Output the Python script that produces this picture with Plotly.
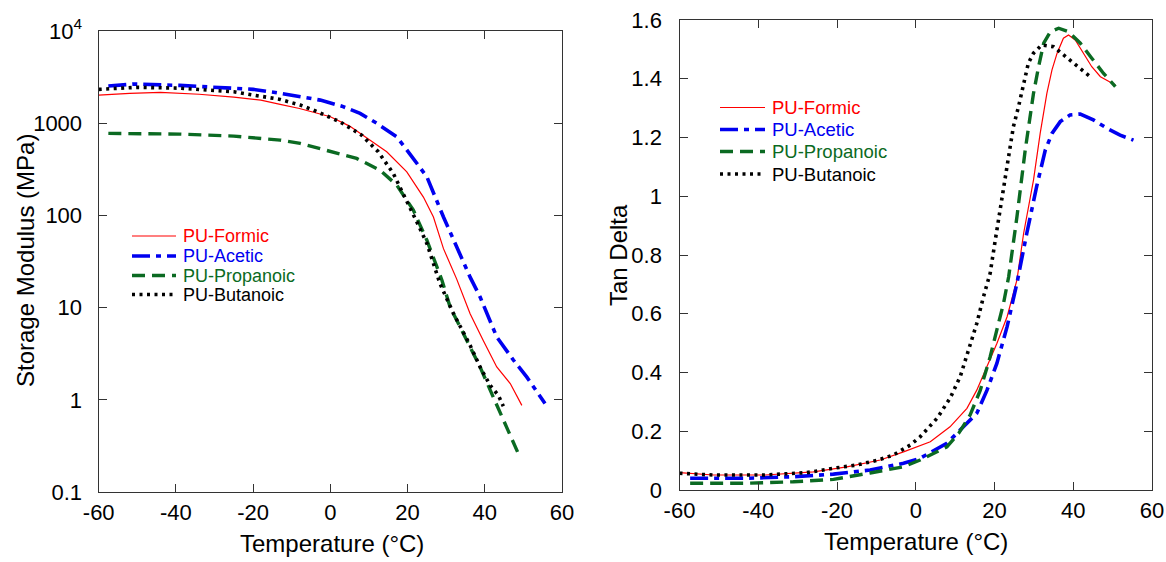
import plotly.graph_objects as go

# ---------------- data: storage modulus (left) ----------------
formic_T = [-60, -52, -44, -34, -25, -18, -13, -8, 0, 5, 9, 14.6, 19.8, 24.1, 26.7, 29.3, 32.7, 36.2, 39.6, 43.1, 46.6, 49.6]
formic_E = [2020, 2110, 2160, 2060, 1920, 1780, 1600, 1445, 1175, 930, 711, 490, 297, 158, 96, 43.6, 20.5, 8.6, 4.4, 2.27, 1.5, 0.87]

acetic_T = [-57.5, -51, -39, -30, -20, -13, -7.8, -2.6, 3, 7.7, 12, 17.2, 21, 25, 29.3, 33.6, 36.2, 38.8, 43.1, 47.4, 50.9, 55.6]
acetic_E = [2530, 2660, 2570, 2470, 2330, 2110, 1935, 1780, 1530, 1277, 1000, 711, 440, 262, 96, 38.5, 21.4, 13.0, 4.8, 2.7, 1.76, 0.91]

propanoic_T = [-57.5, -50, -39, -25, -13, -7.8, -4.4, 1, 6.8, 12.9, 17.2, 21.5, 25.0, 27.6, 28.9, 31.0, 34.5, 38.8, 42.2, 45.7, 48.7]
propanoic_E = [775, 770, 762, 725, 655, 604, 554, 480, 415, 309, 213, 114, 53.8, 27.6, 19.8, 10.2, 5.2, 2.26, 1.07, 0.51, 0.26]

butanoic_T = [-60, -50, -39, -25, -13, -7.8, -4.4, 2.5, 8.1, 12.4, 16.3, 18.9, 22.4, 25.0, 27.6, 28.4, 31.9, 36.2, 38.8, 41.4, 43.5, 44.8]
butanoic_E = [2330, 2450, 2400, 2190, 1810, 1573, 1388, 1035, 742, 490, 285, 173, 85, 49.6, 23.4, 18.2, 8.6, 3.9, 2.26, 1.43, 1.12, 0.85]

# ---------------- data: tan delta (right) ----------------
formic_tT = [-60, -51.4, -38.2, -26.0, -17.5, -9.0, -3.1, 3.7, 8.7, 13.0, 15.5, 18.1, 20.6, 23.2, 25.7, 27.4, 29.9, 31.6, 33.3, 34.6, 35.9, 37.5, 38.8, 40.5, 42.6, 44.7, 46.9, 50.7]
formic_tan = [0.059, 0.051, 0.051, 0.062, 0.079, 0.102, 0.13, 0.164, 0.215, 0.278, 0.340, 0.420, 0.499, 0.590, 0.715, 0.874, 1.055, 1.214, 1.35, 1.43, 1.487, 1.538, 1.549, 1.532, 1.487, 1.441, 1.407, 1.379]

acetic_tT = [-57.3, -42.9, -31.1, -20.9, -11.6, -3.1, 1.1, 7.9, 12.1, 15.5, 18.1, 20.6, 23.2, 25.7, 28.2, 30.7, 32.9, 34.6, 36.7, 39.2, 41.8, 45.1, 48.6, 51.9, 55.3]
acetic_tan = [0.040, 0.040, 0.045, 0.054, 0.068, 0.091, 0.108, 0.159, 0.215, 0.261, 0.340, 0.431, 0.556, 0.704, 0.874, 1.033, 1.157, 1.214, 1.254, 1.277, 1.28, 1.26, 1.231, 1.208, 1.191]

propanoic_tT = [-57.3, -42.9, -31.1, -20.9, -11.6, -3.1, 1.1, 7.9, 10.9, 13.8, 16.4, 18.9, 20.6, 22.3, 23.6, 25.7, 27.8, 29.9, 31.2, 32.5, 34.2, 36.3, 38.8, 41.8, 44.7, 47.7, 50.7]
propanoic_tan = [0.023, 0.023, 0.028, 0.036, 0.058, 0.079, 0.102, 0.147, 0.193, 0.255, 0.340, 0.454, 0.545, 0.636, 0.726, 0.930, 1.157, 1.350, 1.441, 1.521, 1.56, 1.572, 1.56, 1.521, 1.470, 1.418, 1.373]

butanoic_tT = [-60, -51.4, -38.7, -27.7, -20.9, -15.0, -9.5, -5.7, -1.4, 1.1, 5.4, 8.7, 11.3, 13.8, 15.5, 17.2, 18.9, 20.2, 21.9, 23.6, 24.8, 26.1, 27.4, 28.6, 29.9, 32.0, 35.0, 37.5, 40.1, 44.3]
butanoic_tan = [0.057, 0.051, 0.051, 0.059, 0.074, 0.085, 0.102, 0.119, 0.153, 0.181, 0.244, 0.312, 0.386, 0.488, 0.567, 0.658, 0.738, 0.851, 0.987, 1.135, 1.237, 1.305, 1.385, 1.453, 1.487, 1.515, 1.509, 1.481, 1.453, 1.407]

series_names = ["PU-Formic", "PU-Acetic", "PU-Propanoic", "PU-Butanoic"]
x_ticks = [-60, -40, -20, 0, 20, 40, 60]
x_ticktext = ["-60", "-40", "-20", "0", "20", "40", "60"]
e_tickvals = [0.1, 1, 10, 100, 1000, 10000]
e_ticktext = ["0.1", "1", "10", "100", "1000", "10<sup>4</sup>"]
tan_ticks = [0, 0.2, 0.4, 0.6, 0.8, 1.0, 1.2, 1.4, 1.6]
tan_ticktext = ["0", "0.2", "0.4", "0.6", "0.8", "1", "1.2", "1.4", "1.6"]

# ---------------- styling ----------------
W, H = 1166, 562
FONT = "Liberation Sans, Arial, sans-serif"
RED, BLUE, GREEN, BLACK = "#ff0000", "#0000f0", "#0b6a22", "#000000"
styles = [
    dict(color=RED, width=1.2, dash="solid"),
    dict(color=BLUE, width=3.6, dash="18px,6px,5px,6px"),
    dict(color=GREEN, width=3.4, dash="13px,7px"),
    dict(color=BLACK, width=3.6, dash="3px,4.5px"),
]
text_colors = [RED, BLUE, GREEN, BLACK]


def pxx(x):
    return x / W


def pyy(y):
    return 1 - y / H


fig = go.Figure()

left_data = [(formic_T, formic_E), (acetic_T, acetic_E), (propanoic_T, propanoic_E), (butanoic_T, butanoic_E)]
right_data = [(formic_tT, formic_tan), (acetic_tT, acetic_tan), (propanoic_tT, propanoic_tan), (butanoic_tT, butanoic_tan)]

for (xs, ys), st, nm in zip(left_data, styles, series_names):
    fig.add_trace(go.Scatter(x=xs, y=ys, mode="lines", line=st, name=nm,
                             showlegend=False, xaxis="x", yaxis="y"))
for (xs, ys), st, nm in zip(right_data, styles, series_names):
    fig.add_trace(go.Scatter(x=xs, y=ys, mode="lines", line=st, name=nm,
                             showlegend=False, xaxis="x2", yaxis="y2"))

axis_common = dict(
    ticks="inside", ticklen=8, tickwidth=1.2, tickcolor="#333",
    mirror="ticks", showline=True, linecolor="#333", linewidth=1.4,
    showgrid=False, zeroline=False, automargin=False,
    tickfont=dict(family=FONT, size=22, color="black"),
)

fig.update_layout(
    width=W, height=H,
    margin=dict(l=0, r=0, t=0, b=0, pad=0, autoexpand=False),
    paper_bgcolor="white", plot_bgcolor="white",
    showlegend=False,
    xaxis=dict(domain=[pxx(98.7), pxx(562)], range=[-60, 60], tickvals=x_ticks, ticktext=x_ticktext,
               anchor="y", ticklabelstandoff=0, **axis_common),
    yaxis=dict(domain=[pyy(492), pyy(31)], type="log", range=[-1, 4],
               tickvals=e_tickvals, ticktext=e_ticktext, anchor="x",
               ticklabelstandoff=11, **axis_common),
    xaxis2=dict(domain=[pxx(679.5), pxx(1152)], range=[-60, 60], tickvals=x_ticks, ticktext=x_ticktext,
                anchor="y2", ticklabelstandoff=0, **axis_common),
    yaxis2=dict(domain=[pyy(490), pyy(20)], range=[0, 1.6], tickvals=tan_ticks,
                ticktext=tan_ticktext, anchor="x2", ticklabelstandoff=12, **axis_common),
)

# axis titles
title_font = dict(family=FONT, size=24, color="black")
fig.add_annotation(x=pxx(332), y=pyy(543), xref="paper", yref="paper", text="Temperature (°C)",
                   showarrow=False, font=title_font, xanchor="center", yanchor="middle")
fig.add_annotation(x=pxx(916), y=pyy(541), xref="paper", yref="paper", text="Temperature (°C)",
                   showarrow=False, font=title_font, xanchor="center", yanchor="middle")
fig.add_annotation(x=pxx(25), y=pyy(261), xref="paper", yref="paper", text="Storage Modulus (MPa)",
                   showarrow=False, font=title_font, textangle=-90, xanchor="center", yanchor="middle")
fig.add_annotation(x=pxx(618), y=pyy(255), xref="paper", yref="paper", text="Tan Delta",
                   showarrow=False, font=title_font, textangle=-90, xanchor="center", yanchor="middle")

# manual legends (coloured text)
legend_specs = [
    dict(x0=132, x1=176, xt=181, rows=[236, 256, 275.5, 294.5], size=18),
    dict(x0=720, x1=765, xt=770, rows=[107.5, 129.5, 151.5, 174], size=18.5),
]
for spec in legend_specs:
    for st, nm, col, ry in zip(styles, series_names, text_colors, spec["rows"]):
        fig.add_shape(type="line", xref="paper", yref="paper",
                      x0=pxx(spec["x0"]), x1=pxx(spec["x1"]), y0=pyy(ry), y1=pyy(ry),
                      line=dict(color=st["color"], width=st["width"], dash=st["dash"]))
        fig.add_annotation(x=pxx(spec["xt"]), y=pyy(ry), xref="paper", yref="paper", text=nm,
                           showarrow=False, xanchor="left", yanchor="middle",
                           font=dict(family=FONT, size=spec["size"], color=col))

fig.write_html("out.html")
